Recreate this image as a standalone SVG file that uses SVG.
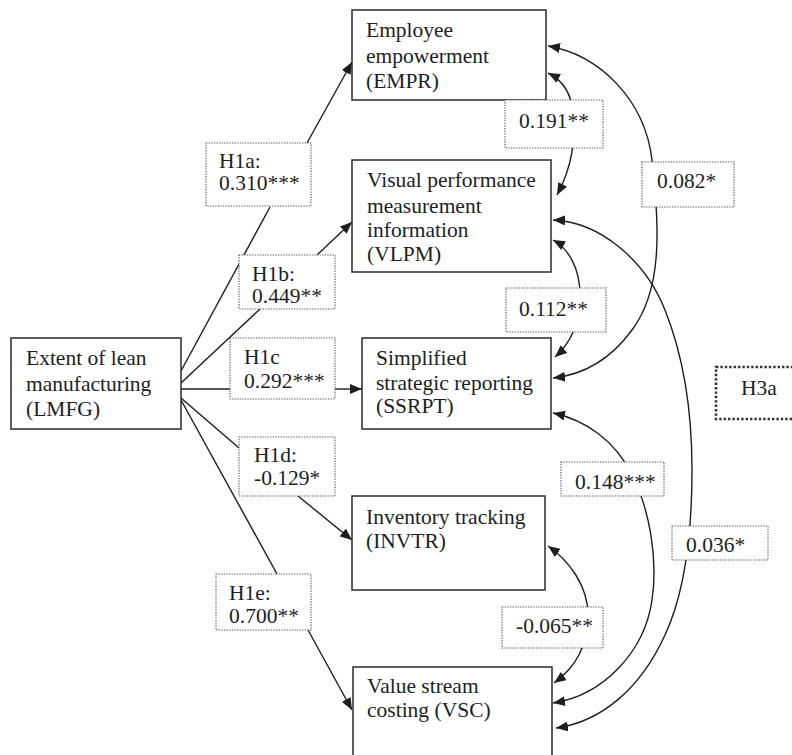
<svg xmlns="http://www.w3.org/2000/svg" width="792" height="755" viewBox="0 0 792 755">
  <style>
    .node rect { fill: #fff; stroke: #2a2a2a; stroke-width: 1.5; }
    .lbl rect { fill: #fff; stroke: #555; stroke-width: 1.1; stroke-dasharray: 1.3 1.3; }
    text { font-family: "Liberation Serif", "Times New Roman", serif; font-size: 21.5px; fill: #1e1e1e; }
    .edge { fill: none; stroke: #1e1e1e; stroke-width: 1.4; }
  </style>
  <defs>
    <marker id="arrow" markerUnits="userSpaceOnUse" markerWidth="13" markerHeight="10" refX="12" refY="5" orient="auto-start-reverse">
      <path d="M0,0 L12,5 L0,10 z" fill="#1e1e1e"/>
    </marker>
  </defs>

  <!-- connectors: paths from LMFG and correlation curves -->
  <g id="connectors">
    <line class="edge" x1="181" y1="371" x2="270" y2="207"/>
    <line class="edge" x1="307" y1="143" x2="352" y2="62" marker-end="url(#arrow)"/>
    <line class="edge" x1="181" y1="383" x2="260" y2="309"/>
    <line class="edge" x1="317" y1="255" x2="352" y2="222" marker-end="url(#arrow)"/>
    <line class="edge" x1="181" y1="389" x2="230" y2="389"/>
    <line class="edge" x1="335" y1="389" x2="362" y2="389" marker-end="url(#arrow)"/>
    <line class="edge" x1="181" y1="398" x2="239" y2="448"/>
    <line class="edge" x1="298" y1="496" x2="352" y2="540" marker-end="url(#arrow)"/>
    <line class="edge" x1="181" y1="400" x2="277" y2="574"/>
    <line class="edge" x1="308" y1="630" x2="352" y2="710" marker-end="url(#arrow)"/>

    <path class="edge" d="M548,73 C562,80 572,92 573,115 C575,140 573,165 557,195" marker-start="url(#arrow)" marker-end="url(#arrow)"/>
    <path class="edge" d="M548,46 C600,55 645,100 652,160 C660,230 662,290 632,330 C610,360 582,375 553,378" marker-start="url(#arrow)" marker-end="url(#arrow)"/>
    <path class="edge" d="M553,240 C568,248 580,268 580,295 C580,320 572,342 555,357" marker-start="url(#arrow)" marker-end="url(#arrow)"/>
    <path class="edge" d="M553,220 C600,222 645,260 665,310 C683,355 692,410 692,470 C692,530 686,590 665,635 C640,690 600,722 556,728" marker-start="url(#arrow)" marker-end="url(#arrow)"/>
    <path class="edge" d="M553,413 C585,420 615,440 632,475 C650,510 658,560 652,600 C645,650 605,695 553,703" marker-start="url(#arrow)" marker-end="url(#arrow)"/>
    <path class="edge" d="M548,546 C568,560 588,585 588,615 C588,645 575,668 554,683" marker-start="url(#arrow)" marker-end="url(#arrow)"/>
  </g>

  <!-- constructs -->
  <g id="LMFG" class="node">
    <rect x="11" y="338" width="170" height="91"/>
    <text x="26" y="365">Extent of lean</text>
    <text x="26" y="391">manufacturing</text>
    <text x="26" y="416">(LMFG)</text>
  </g>
  <g id="EMPR" class="node">
    <rect x="352" y="10" width="194" height="90"/>
    <text x="366" y="37">Employee</text>
    <text x="366" y="63">empowerment</text>
    <text x="366" y="88">(EMPR)</text>
  </g>
  <g id="VLPM" class="node">
    <rect x="352" y="160" width="199" height="112"/>
    <text x="367" y="187">Visual performance</text>
    <text x="367" y="213">measurement</text>
    <text x="367" y="237">information</text>
    <text x="367" y="261">(VLPM)</text>
  </g>
  <g id="SSRPT" class="node">
    <rect x="362" y="338" width="189" height="91"/>
    <text x="376" y="365">Simplified</text>
    <text x="376" y="390">strategic reporting</text>
    <text x="376" y="413">(SSRPT)</text>
  </g>
  <g id="INVTR" class="node">
    <rect x="352" y="496" width="193" height="94"/>
    <text x="366" y="524">Inventory tracking</text>
    <text x="366" y="548">(INVTR)</text>
  </g>
  <g id="VSC" class="node">
    <rect x="353" y="667" width="199" height="100"/>
    <text x="367" y="693">Value stream</text>
    <text x="367" y="717">costing (VSC)</text>
  </g>

  <!-- path coefficients -->
  <g id="H1a" class="lbl">
    <rect x="206" y="143" width="105" height="63"/>
    <text x="219" y="168">H1a:</text>
    <text x="219" y="190">0.310***</text>
  </g>
  <g id="H1b" class="lbl">
    <rect x="239" y="255" width="96" height="54"/>
    <text x="252" y="281">H1b:</text>
    <text x="252" y="303">0.449**</text>
  </g>
  <g id="H1c" class="lbl">
    <rect x="230" y="338" width="105" height="61"/>
    <text x="244" y="364">H1c</text>
    <text x="244" y="388">0.292***</text>
  </g>
  <g id="H1d" class="lbl">
    <rect x="239" y="437" width="96" height="59"/>
    <text x="254" y="462">H1d:</text>
    <text x="254" y="485">-0.129*</text>
  </g>
  <g id="H1e" class="lbl">
    <rect x="216" y="574" width="95" height="56"/>
    <text x="229" y="600">H1e:</text>
    <text x="229" y="623">0.700**</text>
  </g>

  <!-- correlations -->
  <g id="r-empr-vlpm" class="lbl">
    <rect x="505" y="100" width="98" height="48"/>
    <text x="519" y="128">0.191**</text>
  </g>
  <g id="r-empr-ssrpt" class="lbl">
    <rect x="642" y="162" width="92" height="45"/>
    <text x="657" y="188">0.082*</text>
  </g>
  <g id="r-vlpm-ssrpt" class="lbl">
    <rect x="506" y="288" width="100" height="44"/>
    <text x="519" y="316">0.112**</text>
  </g>
  <g id="r-ssrpt-vsc" class="lbl">
    <rect x="561" y="462" width="103" height="34"/>
    <text x="575" y="489">0.148***</text>
  </g>
  <g id="r-vlpm-vsc" class="lbl">
    <rect x="672" y="526" width="96" height="34"/>
    <text x="686" y="552">0.036*</text>
  </g>
  <g id="r-invtr-vsc" class="lbl">
    <rect x="502" y="607" width="101" height="41"/>
    <text x="516" y="633">-0.065**</text>
  </g>

  <g id="H3a">
    <rect x="716" y="367" width="100" height="52" fill="#fff" stroke="#333" stroke-width="2.6" stroke-dasharray="2.4 2"/>
    <text x="741" y="395">H3a</text>
  </g>
</svg>
